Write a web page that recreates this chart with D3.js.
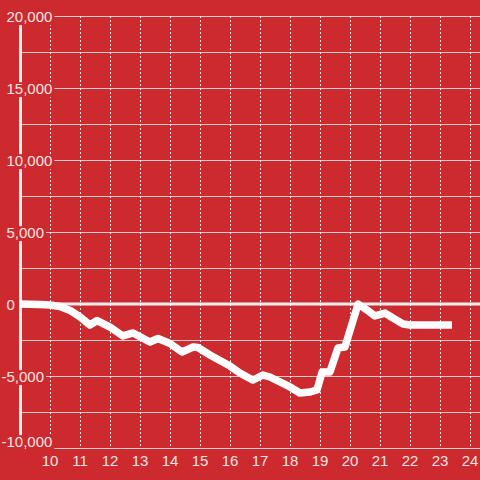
<!DOCTYPE html>
<html>
<head>
<meta charset="utf-8">
<script src="https://cdn.jsdelivr.net/npm/d3@7"></script>
<style>
html,body{margin:0;padding:0;background:#cc2a2e;}
svg{display:block;}
</style>
</head>
<body>
<svg id="chart" width="480" height="480"></svg>
<script>
// Data
const hours = [9.0, 9.67, 10.0, 10.33, 10.67, 11.0, 11.33, 11.57, 12.0, 12.43, 12.77, 13.33, 13.6, 14.0, 14.4, 14.77, 14.93, 15.33, 16.0, 16.33, 16.57, 16.77, 17.1, 17.33, 18.0, 18.33, 18.67, 18.9, 19.07, 19.33, 19.6, 19.83, 20.27, 20.57, 20.83, 21.17, 21.43, 21.77, 22.0, 23.4];
const values = [0, -40, -70, -175, -450, -900, -1460, -1150, -1600, -2220, -2010, -2640, -2400, -2740, -3330, -2990, -3020, -3540, -4310, -4790, -5070, -5280, -4930, -5070, -5760, -6180, -6110, -5970, -4720, -4720, -3060, -2990, 0, -420, -830, -630, -970, -1390, -1460, -1460];
const xTicks = [10, 11, 12, 13, 14, 15, 16, 17, 18, 19, 20, 21, 22, 23, 24];
const yTicks = [-10000, -5000, 0, 5000, 10000, 15000, 20000];
const yGrid = [-10000, -7500, -5000, -2500, 0, 2500, 5000, 7500, 10000, 12500, 15000, 17500, 20000];

const W = 480, H = 480;
const svg = d3.select("#chart");
const bg = "#cc2a2e";

const x = d3.scaleLinear().domain([9, 24]).range([20, 470]);
const y = d3.scaleLinear().domain([-10000, 20000]).range([448, 16]);

svg.append("rect").attr("width", W).attr("height", H).attr("fill", bg);

// horizontal grid
svg.append("g").selectAll("line").data(yGrid).join("line")
  .attr("x1", 20).attr("x2", W)
  .attr("y1", d => Math.round(y(d)) + 0.5).attr("y2", d => Math.round(y(d)) + 0.5)
  .attr("stroke", "#d9cccc").attr("stroke-width", 1);

// vertical dashed grid
svg.append("g").selectAll("line").data(xTicks).join("line")
  .attr("x1", d => Math.round(x(d)) + 0.5).attr("x2", d => Math.round(x(d)) + 0.5)
  .attr("y1", y(20000)).attr("y2", y(-10000))
  .attr("stroke", "#f2e6e6").attr("stroke-width", 1).attr("stroke-dasharray", "2,2");

// y axis line
svg.append("line").attr("x1", x(9) + 0.5).attr("x2", x(9) + 0.5)
  .attr("y1", y(20000)).attr("y2", y(-10000))
  .attr("stroke", "#f4eeee").attr("stroke-width", 3);

// zero line
svg.append("line").attr("x1", x(9)).attr("x2", W)
  .attr("y1", y(0)).attr("y2", y(0))
  .attr("stroke", "#f4eeee").attr("stroke-width", 3);

// data line
const line = d3.line().x((d, i) => x(hours[i])).y(d => y(d));
svg.append("path").datum(values)
  .attr("d", line)
  .attr("fill", "none").attr("stroke", "#ffffff").attr("stroke-width", 7.5)
  .attr("stroke-linejoin", "round").attr("stroke-linecap", "butt");

// y labels with background boxes
const fmt = d3.format(",");
const yl = svg.append("g").attr("font-family", "Liberation Sans, Arial, sans-serif").attr("font-size", 15);
yTicks.forEach(t => {
  const g = yl.append("g");
  const base = t === -10000 ? y(t) - 1.3 : y(t) + 5.7;
  const txt = g.append("text").attr("x", 6.5).attr("y", base)
    .attr("fill", "#f3e4e4").text(t < 0 ? "-" + fmt(-t) : fmt(t));
  if (t < 0) {
    const tmp = yl.append("text").text("-");
    const mw = tmp.node().getComputedTextLength();
    tmp.remove();
    txt.attr("x", 6.5 - mw);
  }
  const bb = txt.node().getBBox();
  g.insert("rect", "text").attr("x", bb.x - 2).attr("y", base - 11.5)
    .attr("width", bb.width + 4).attr("height", 15).attr("fill", bg);
});

// x labels
svg.append("g").attr("font-family", "Liberation Sans, Arial, sans-serif").attr("font-size", 15)
  .selectAll("text").data(xTicks).join("text")
  .attr("x", d => x(d)).attr("y", 466).attr("text-anchor", "middle")
  .attr("fill", "#f3e4e4").text(d => d);
</script>
</body>
</html>
